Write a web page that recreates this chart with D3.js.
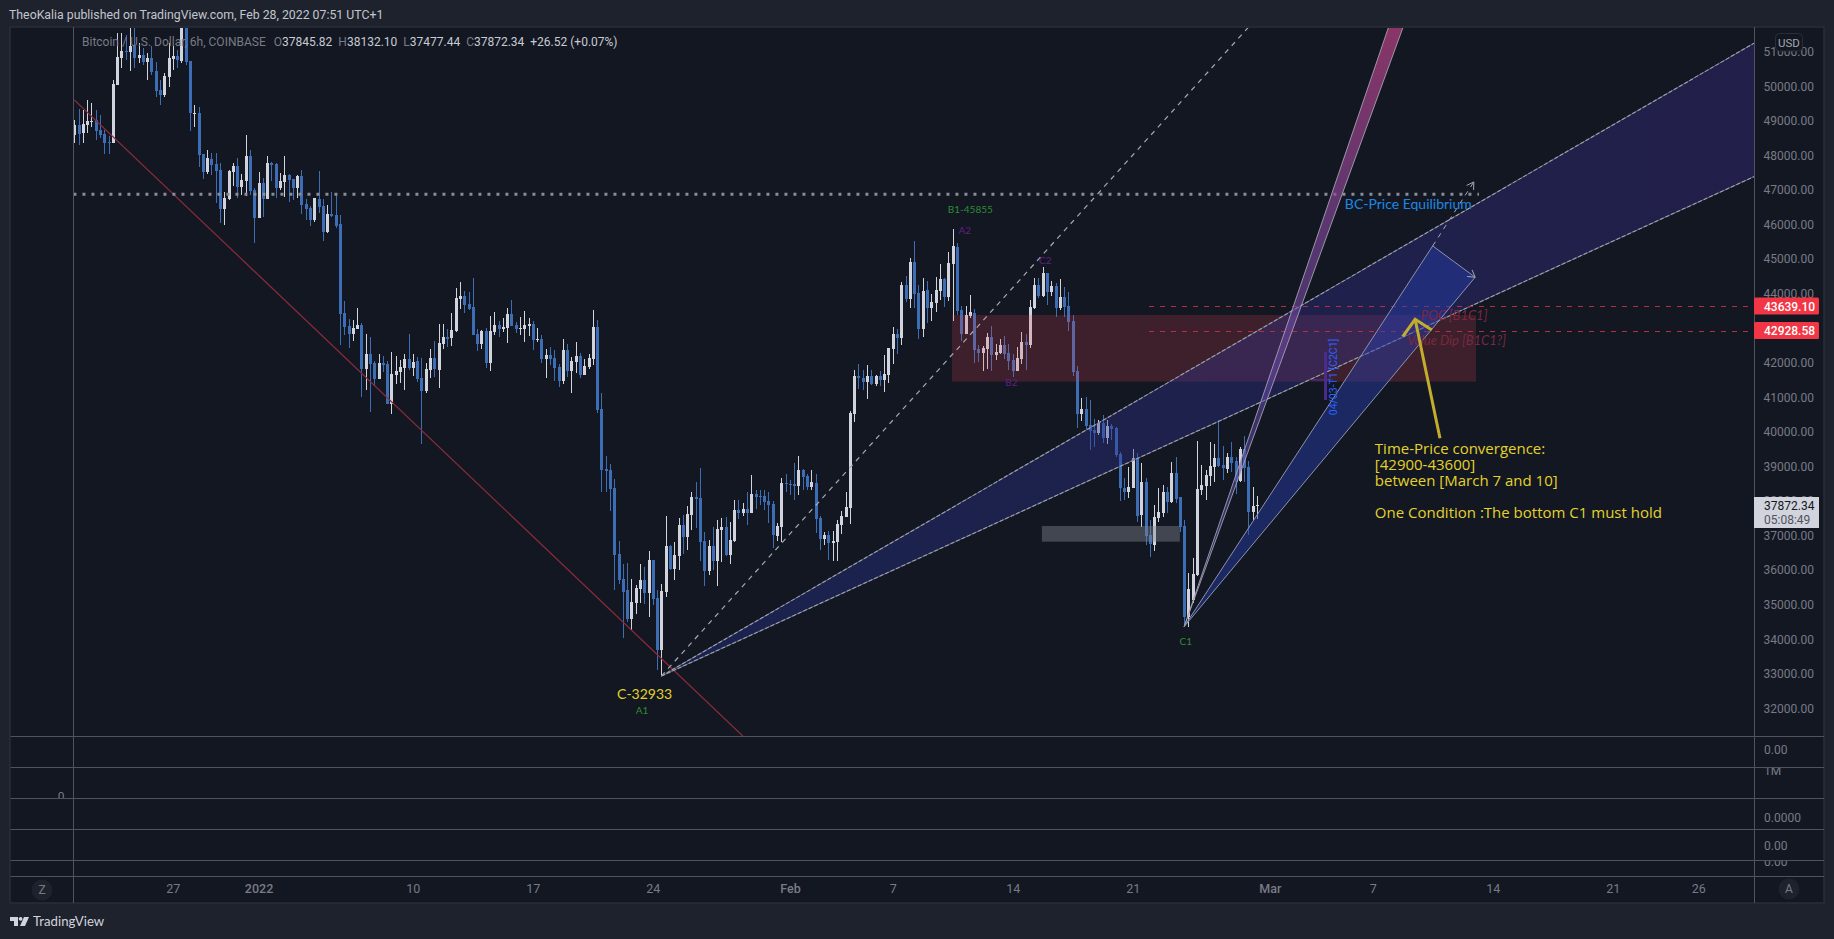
<!DOCTYPE html>
<html><head><meta charset="utf-8">
<script src="https://cdn.jsdelivr.net/npm/d3@7/dist/d3.min.js"></script>
<style>html,body{margin:0;padding:0;background:#1e222d;overflow:hidden}svg{display:block}text{font-family:Roboto,Lato,sans-serif}</style>
</head><body><div id="chart"></div>
<script>
// ---------- OHLC values (6h bars, bar 0 = 21 Dec 2021 06:00) ----------
const opens=[48590,48880,48640,48880,48977,49025,48736,48620,48380,48360,
50040,50810,51010,50995,51167,50820,50906,50713,50820,50443,
49894,49750,50270,50790,50880,50740,51990,50730,49210,49218,
48032,47520,47897,47742,47578,46450,46739,47530,47694,47096,
47270,47983,46999,46199,47192,46739,47771,47752,47067,47240,
47434,47318,47067,47414,46595,46488,46131,46739,46536,45783,
46304,46275,46015,43450,43064,42832,42967,43093,41820,42254,
42003,41530,41993,41964,40807,41646,41733,41848,42109,41848,
42051,41559,41183,41791,42138,41791,42543,42746,42717,42919,
43845,43932,43701,43614,42832,42543,42919,41993,42890,43093,
42977,43006,43411,43093,42987,42977,43064,43122,42659,42688,
42109,42225,42138,41877,41472,42370,41762,42022,42196,41646,
41877,42109,43035,40661,38925,38896,38375,36465,35741,35423,
34584,35047,35452,35713,35327,36292,35192,33687,35365,36697,
36031,36407,37304,36957,37594,38115,38086,36841,35973,36697,
36262,37160,37246,36436,36841,37739,37651,37767,37651,38201,
38144,38144,37999,37912,36986,37246,38520,38491,38491,38433,
38896,38722,38404,38520,37507,36899,37015,36783,36812,37304,
37536,37796,40517,41617,41559,41443,41617,41385,41617,41501,
41645,42398,42832,42716,44250,43845,44916,44009,42976,44105,
43584,43729,44076,44423,43902,44858,45350,43526,42832,43353,
43440,42398,42272,42398,42745,42224,42272,42513,42282,42079,
41761,42108,42600,42513,43584,44250,43931,44597,44047,44221,
43584,43902,43642,43208,41761,40516,40661,40198,40054,39957,
40256,39822,40169,40111,39358,38365,38269,38365,39233,37594,
38558,37015,36725,37497,37661,38259,37970,38799,38105,37275,
34651,35134,35857,38317,38433,38722,38992,39253,39041,38924,
39282,39156,38578,39504,38983,37681,37845];
const highs=[49025,49345,49315,49600,49527,49315,49170,48736,48560,50180,
51530,51530,51495,51700,51700,51245,51100,50955,51167,50704,
50180,50376,51245,51150,51050,52300,52400,50730,49460,49392,
48032,48157,48080,48060,47771,46932,47578,47771,47916,47463,
48580,48157,47048,47530,47337,47983,47820,47790,47482,47983,
47463,47318,47434,47578,46739,46546,46758,47559,46739,46565,
46941,46912,46275,43788,43266,43238,43585,43141,42832,42736,
42051,42254,42196,42051,42302,42196,42080,42254,42832,42254,
42167,42138,42003,42398,42630,43122,43122,42977,43440,44164,
44337,44077,44048,44453,42977,42948,43006,43353,43469,43209,
43295,43585,43816,43180,43324,43498,43295,43209,43006,42803,
42398,42456,42370,41964,42688,42543,42167,42601,42283,42109,
42254,43527,43238,41115,39301,39070,38636,36841,36176,36195,
35742,35568,36176,36099,36552,36292,35423,35597,37565,36726,
36812,37507,37594,37854,38260,38549,38954,37102,36870,37246,
37449,37507,37536,37391,38028,38028,37941,38260,38751,38317,
38317,38317,38259,37999,37362,38664,38780,38607,39089,39301,
38925,38780,38896,38780,37565,37102,37131,37131,37449,37710,
38259,40604,41790,41964,41790,41935,41790,41645,41761,42224,
42427,43035,42977,44337,44500,45032,45514,44250,44443,44365,
43989,44481,44857,44452,45205,45870,45465,43642,43642,43960,
43555,42513,42485,42861,43063,42542,42687,42774,42542,42253,
42455,42890,42832,43816,44452,44452,44771,44597,44366,44308,
44423,44192,44047,43381,41906,40979,41008,40922,40372,40343,
40487,40343,40227,40150,39426,38655,38992,39494,39378,39088,
38654,37449,37883,38365,38462,38413,39137,39262,38105,37449,
35905,36340,39735,39041,38896,39697,39648,40343,39591,39378,
39697,39263,39552,39880,39157,38414,38132];
const lows=[48350,48300,48350,48640,48830,48446,48495,48040,48040,48360,
50040,50520,50760,50450,50540,50665,50617,50180,50328,49700,
49460,49700,49990,50470,50520,50670,50620,48717,48830,47675,
47318,47453,47434,46613,46035,45970,46710,47115,46758,46855,
46835,46855,45450,46180,46228,46739,47270,46778,46999,46807,
46662,46710,46758,46305,46131,45958,46083,46324,45522,45754,
46217,45900,42515,42803,42427,42630,42967,41019,41212,40575,
41328,41530,41742,40807,40517,41386,41424,41212,41791,41617,
41453,39649,41135,41559,41588,41270,42398,42456,42485,42890,
43556,43440,43527,42803,42340,42398,41849,41762,42803,42746,
42890,42572,43064,42861,42803,42601,42775,42370,42601,41993,
41559,41935,41472,41299,41386,41588,41125,41704,41559,41646,
41820,41935,40546,38269,38269,37719,35423,35597,34043,34507,
34266,34729,35037,35018,34651,34989,33108,32933,35230,36002,
35713,36002,36465,36581,37160,37217,36262,35539,35857,36002,
35539,36233,36407,36176,36812,37478,37565,37304,37642,37767,
37883,37738,37362,36639,36841,36812,38259,38173,38028,38173,
38317,38317,38317,37073,36581,36725,36291,36262,36262,37044,
37536,37334,40285,41240,41211,40951,41356,41327,41327,41153,
41414,41964,42253,42513,43750,43584,43584,42687,42745,43150,
43208,43468,43816,43613,43787,43208,43381,42629,42832,43295,
41993,42022,41761,41819,41761,42079,42253,42108,41790,41587,
41761,41963,41790,42427,43555,43873,43902,43671,43931,43324,
43526,43324,42919,41616,40111,40314,40053,39475,39571,39909,
39677,39648,39764,39282,38008,38028,38075,38365,37400,37256,
36725,36368,36561,37400,37526,37661,37931,37950,37111,34410,
34362,35037,35828,38172,38028,38443,38558,38992,38606,38819,
38847,38201,38558,38558,37015,37449,37477];
const closes=[48880,48620,48910,48995,49006,48707,48580,48360,48370,50067,
50840,51010,51000,51167,50810,50900,50704,50820,50405,49874,
49750,50300,50820,50880,50760,52000,50710,49218,49220,48012,
47530,47916,47723,47559,46459,46758,47549,47694,47096,47289,
47983,46970,46199,47192,46739,47771,47733,47067,47260,47434,
47289,47067,47414,46566,46450,46131,46758,46517,45783,46304,
46246,45957,43410,43045,42832,43006,43093,41820,42254,41964,
41530,41993,41935,40807,41675,41762,41877,42109,41848,42022,
41530,41183,41820,42138,41820,42572,42746,42688,42948,43874,
43932,43672,43556,42803,42543,42919,41993,42919,43093,42977,
43035,43411,43064,42977,43006,43093,43122,42659,42688,42109,
42225,42109,41848,41472,42370,41762,42051,42196,41646,41906,
42138,43035,40633,38896,38867,38346,36436,35713,35365,34584,
35076,35481,35713,35327,36292,35163,33687,35394,36697,36031,
36436,37304,36957,37623,38115,38057,36812,35973,36697,36262,
37189,37246,36436,36870,37739,37642,37767,37651,38201,38115,
38125,37970,37883,37015,37275,38520,38491,38472,38433,38896,
38694,38404,38548,37478,36899,37015,36783,36841,37333,37565,
37825,40546,41617,41549,41443,41617,41385,41617,41501,41674,
42427,42832,42716,44250,43845,44916,43989,42976,44076,43584,
43758,44105,44423,43902,44887,45378,43497,42832,43381,43459,
42369,42272,42427,42745,42224,42311,42513,42253,42050,41761,
42137,42600,42513,43613,44250,43931,44597,44047,44221,43584,
43902,43613,43179,41732,40516,40661,40169,40024,39957,40256,
39822,40169,40082,39330,38365,38269,38413,39233,37565,38558,
36986,36754,37526,37680,38259,37970,38799,38047,37256,34651,
35452,35886,38346,38462,38751,39012,39253,39012,38944,39282,
39089,38558,39504,38964,37681,37854,37872];

// ---------- axis values ----------
const priceTicks=[32000,33000,34000,35000,36000,37000,38000,39000,40000,41000,42000,43000,44000,45000,46000,47000,48000,49000,50000,51000];
const timeTickBars=[23,43,79,107,135,167,191,219,247,279,303,331,359,379];
const timeTickLabels=["27","2022","10","17","24","Feb","7","14","21","Mar","7","14","21","26"];
const boldTimeLabels=["2022","Feb","Mar"];
const paneSeparators=[736.3,767.3,798.3,829.3,860.3,876.3];

// ---------- drawings, as [bar, price] ----------
const pivotA=[137,32933];
const pivotC1=[259,34362];
const dashedFibEnd=[274.1,51720];
const wedgeMainUpper=[392,51245];
const wedgeMainLower=[392,47385];
const wedgeSteepLeft=[306.7,51710];
const wedgeSteepRight=[310.1,51710];
const wedgeTargetLeft=[317,45379];
const wedgeTargetRight=[326.9,44473];
const wedgeTargetExt=[326.6,47231];
const redDiagonal=[[0,49604],[156,31198]];
const equilibriumLine=[[-0.2,46876],[327.8,46876]];
const redZone=[204.8,327.1,43380,41450];
const grayZone=[225.8,258,37276,36822];
const levels=[43639.10,42928.58];
const levelStartBar=250.8;
const lastBar=392;
const yellowArrow=[[318.7,39814],[312.9,43257]];
const yellowHead=[[310,42754],[312.9,43257],[316.8,42948]];
const crossV=[[292,42320],[292,40922]];
const crossH=[[288.8,41501],[293.7,41501]];
const pointLabels=[
 {t:"C-32933",b:133.1,p:32414,c:"#e3d22c",s:14},
 {t:"A1",b:132.5,p:31930,c:"#2e8b35",s:10},
 {t:"B1-45855",b:209.1,p:46427,c:"#2e8b35",s:10},
 {t:"A2",b:207.8,p:45822,c:"#5f1f86",s:10},
 {t:"C2",b:226.6,p:44945,c:"#5f1f86",s:10},
 {t:"B2",b:218.7,p:41414,c:"#5f1f86",s:10},
 {t:"C1",b:259.4,p:33927,c:"#2e8b35",s:10}];
const sideLabels=[
 {t:"BC-Price Equilibrium",b:296.5,p:46595,c:"#1e88e5",s:14,st:"normal"},
 {t:"POC [B1C1]",b:314.2,p:43353,c:"#7a2840",s:13,st:"italic"},
 {t:"Value Dip [B1C1?]",b:311,p:42630,c:"#7a2840",s:13,st:"italic"}];
const noteLines=[
 {t:"Time-Price convergence:",p:39524},
 {t:"[42900-43600]",p:39061},
 {t:"between [March 7 and 10]",p:38598},
 {t:"One Condition :The bottom C1 must hold",p:37660}];
const noteBar=303.5;
const rotatedLabel={t:"04/03-T1 [C2C1]",b:293.9,p:41588};
const legendParts=[["O","37845.82"],["H","38132.10"],["L","37477.44"],["C","37872.34"]];

// ---------- scales ----------
const W=1834,H=939;
const x=d3.scaleLinear().domain([0,276]).range([74.3,1257]);
const y=d3.scaleLinear().domain([32000,51000]).range([708.3,51.66]);
const P=d=>[x(d[0]),y(d[1])];
const pane={l:74,t:28,r:1754,b:736};

const svg=d3.select("#chart").append("svg").attr("width",W).attr("height",H);
const defs=svg.append("defs");
defs.append("clipPath").attr("id","main").append("rect").attr("x",pane.l).attr("y",pane.t).attr("width",pane.r-pane.l).attr("height",pane.b-pane.t);
const g1=defs.append("linearGradient").attr("id","gMain").attr("gradientUnits","userSpaceOnUse").attr("x1",x(pivotA[0])).attr("x2",x(lastBar)).attr("y1",0).attr("y2",0);
g1.append("stop").attr("offset",0).attr("stop-color","rgb(36,54,148)").attr("stop-opacity",.38);
g1.append("stop").attr("offset",1).attr("stop-color","rgb(60,46,145)").attr("stop-opacity",.36);
const g2=defs.append("linearGradient").attr("id","gSteep").attr("gradientUnits","userSpaceOnUse").attr("x1",0).attr("x2",0).attr("y1",y(pivotC1[1])).attr("y2",pane.t);
g2.append("stop").attr("offset",0).attr("stop-color","#3c44a8").attr("stop-opacity",.5);
g2.append("stop").attr("offset",.61).attr("stop-color","#7f4ba4").attr("stop-opacity",.6);
g2.append("stop").attr("offset",1).attr("stop-color","#b23f7d").attr("stop-opacity",.75);

// chrome
svg.append("rect").attr("width",W).attr("height",H).attr("fill","#1e222d");
svg.append("rect").attr("x",10).attr("y",27).attr("width",1814).attr("height",876).attr("fill","#131722").attr("stroke","#2a2e39").attr("stroke-width",1.5);
svg.append("text").attr("x",9).attr("y",19).attr("fill","#c3c6ce").attr("font-size",12.3).text("TheoKalia published on TradingView.com, Feb 28, 2022 07:51 UTC+1");

// footer logo + wordmark
svg.append("path").attr("fill","#d1d4dc").attr("d","M10 917h8v9h-4v-5h-4z");
svg.append("circle").attr("cx",20.6).attr("cy",918.8).attr("r",1.9).attr("fill","#d1d4dc");
svg.append("path").attr("fill","#d1d4dc").attr("d","M24 917h5l-4 9h-5z");
svg.append("text").attr("x",33).attr("y",926).attr("fill","#d1d4dc").attr("font-size",13.2).style("font-family","Lato").text("TradingView");

// pane separators
svg.append("g").selectAll("line").data(paneSeparators).join("line")
 .attr("x1",10.5).attr("x2",1824).attr("y1",d=>Math.round(d)+.5).attr("y2",d=>Math.round(d)+.5)
 .attr("stroke","#50535e").attr("stroke-width",1);
// vertical scale borders
[73.5,1754.5].forEach(v=>svg.append("line").attr("x1",v).attr("x2",v).attr("y1",27).attr("y2",903).attr("stroke","#50535e"));

// candles
const bars=d3.range(opens.length).map(i=>({i,o:opens[i],h:highs[i],l:lows[i],c:closes[i]}));
const upC="#d1d4dc",dnC="#3d6db5";
const plot=svg.append("g").attr("clip-path","url(#main)");
const cg=plot.append("g").attr("shape-rendering","crispEdges");
cg.selectAll("rect.w").data(bars).join("rect").attr("class","w")
 .attr("x",d=>Math.round(x(d.i))).attr("width",1)
 .attr("y",d=>y(d.h)).attr("height",d=>Math.max(1,y(d.l)-y(d.h)))
 .attr("fill",d=>d.c>=d.o?upC:dnC);
cg.selectAll("rect.b").data(bars).join("rect").attr("class","b")
 .attr("x",d=>Math.round(x(d.i))-1).attr("width",3)
 .attr("y",d=>y(Math.max(d.o,d.c))).attr("height",d=>Math.max(1,Math.abs(y(d.o)-y(d.c))))
 .attr("fill",d=>d.c>=d.o?upC:dnC);

// drawings
const ln=d3.line().x(d=>x(d[0])).y(d=>y(d[1]));
const grayDash="#a6a9b2";
plot.append("path").attr("d",ln(redDiagonal)).attr("fill","none").attr("stroke","#8a2b3c").attr("stroke-width",1.2);
plot.append("path").attr("d",ln(equilibriumLine)).attr("fill","none").attr("stroke","#8a8d96").attr("stroke-width",3).attr("stroke-dasharray","3 6");
plot.append("rect").attr("x",x(redZone[0])).attr("width",x(redZone[1])-x(redZone[0])).attr("y",y(redZone[2])).attr("height",y(redZone[3])-y(redZone[2])).attr("fill","rgba(232,70,82,.2)");
plot.append("rect").attr("x",x(grayZone[0])).attr("width",x(grayZone[1])-x(grayZone[0])).attr("y",y(grayZone[2])).attr("height",y(grayZone[3])-y(grayZone[2])).attr("fill","rgba(130,135,145,.42)");
// dashed fib line
plot.append("path").attr("d",ln([pivotA,dashedFibEnd])).attr("fill","none").attr("stroke",grayDash).attr("stroke-width",1.2).attr("stroke-dasharray","5 5");
// main wedge
plot.append("path").attr("d",ln([pivotA,wedgeMainUpper,wedgeMainLower])+"Z").attr("fill","url(#gMain)");
[wedgeMainUpper,wedgeMainLower].forEach(e=>{
 plot.append("path").attr("d",ln([pivotA,e])).attr("fill","none").attr("stroke","#5f6180").attr("stroke-width",1);
 plot.append("path").attr("d",ln([pivotA,e])).attr("fill","none").attr("stroke","#9ea1aa").attr("stroke-width",1.1).attr("stroke-dasharray","4 2");
});
// levels
levels.forEach(l=>plot.append("line").attr("x1",x(levelStartBar)).attr("x2",x(lastBar)).attr("y1",Math.round(y(l))+.5).attr("y2",Math.round(y(l))+.5).attr("stroke","#b42f40").attr("stroke-dasharray","5 6"));
// steep wedge
plot.append("path").attr("d",ln([pivotC1,wedgeSteepLeft,wedgeSteepRight])+"Z").attr("fill","url(#gSteep)");
[wedgeSteepLeft,wedgeSteepRight].forEach(e=>plot.append("path").attr("d",ln([pivotC1,e])).attr("fill","none").attr("stroke","#a9a9b6").attr("stroke-opacity",.85).attr("stroke-width",1));
// target wedge
plot.append("path").attr("d",ln([pivotC1,wedgeTargetLeft,wedgeTargetRight])+"Z").attr("fill","rgba(37,63,176,.45)");
plot.append("path").attr("d",ln([wedgeTargetRight,wedgeTargetLeft,pivotC1,wedgeTargetRight])).attr("fill","none").attr("stroke","#8d93ad").attr("stroke-width",1);
plot.append("path").attr("d",ln([wedgeTargetLeft,wedgeTargetExt])).attr("fill","none").attr("stroke",grayDash).attr("stroke-dasharray","5 5");
// open arrow heads
function head(from,to){
 const [x0,y0]=P(from),[x1,y1]=P(to),a=Math.atan2(y1-y0,x1-x0),L=8;
 const pts=[[x1+L*Math.cos(a+2.6),y1+L*Math.sin(a+2.6)],[x1,y1],[x1+L*Math.cos(a-2.6),y1+L*Math.sin(a-2.6)]];
 plot.append("path").attr("d",d3.line()(pts)).attr("fill","none").attr("stroke",grayDash);
}
head(wedgeTargetLeft,wedgeTargetExt);
head(wedgeTargetLeft,wedgeTargetRight);
// purple cross
[crossV,crossH].forEach((c,i)=>plot.append("path").attr("d",ln(c)).attr("stroke","#4a2c8f").attr("stroke-width",i?1.5:3).attr("fill","none"));
// labels on the chart
plot.selectAll("text.pt").data(pointLabels).join("text").attr("class","pt")
 .attr("x",d=>x(d.b)).attr("y",d=>y(d.p)).attr("dy","0.35em").attr("text-anchor","middle")
 .attr("fill",d=>d.c).attr("font-size",d=>d.s).style("font-family","Lato").text(d=>d.t);
plot.selectAll("text.sd").data(sideLabels).join("text").attr("class","sd")
 .attr("x",d=>x(d.b)).attr("y",d=>y(d.p)).attr("dy","0.35em")
 .attr("fill",d=>d.c).attr("font-size",d=>d.s).attr("font-style",d=>d.st).style("font-family","Lato").text(d=>d.t);
plot.append("text").attr("transform",`translate(${x(rotatedLabel.b)},${y(rotatedLabel.p)}) rotate(-90)`)
 .attr("text-anchor","middle").attr("dy","0.35em").attr("fill","#2962ff").attr("font-size",10.5).text(rotatedLabel.t);
plot.append("path").attr("d",ln(yellowArrow)).attr("fill","none").attr("stroke","#c2ae2c").attr("stroke-width",3);
plot.append("path").attr("d",ln(yellowHead)).attr("fill","none").attr("stroke","#c2ae2c").attr("stroke-width",3);
plot.selectAll("text.nt").data(noteLines).join("text").attr("class","nt")
 .attr("x",x(noteBar)).attr("y",d=>y(d.p)).attr("dy","0.35em").attr("fill","#e3d22c").attr("font-size",15).style("font-family","Open Sans").text(d=>d.t);

// price axis
const axR=d3.axisRight(y).tickValues(priceTicks).tickSize(0).tickPadding(9.5).tickFormat(d3.format(".2f"));
const ga=svg.append("g").attr("transform",`translate(${pane.r},0)`).call(axR);
ga.select(".domain").remove();
ga.selectAll("text").attr("fill","#787b86").attr("font-size",12).style("font-family","Roboto");
// time axis
const axB=d3.axisBottom(x).tickValues(timeTickBars).tickSize(0).tickPadding(0).tickFormat((d,i)=>timeTickLabels[i]);
const gt=svg.append("g").attr("transform","translate(0,884)").call(axB);
gt.select(".domain").remove();
gt.selectAll("text").attr("fill","#787b86").attr("font-size",12.5).attr("font-weight",(d,i)=>boldTimeLabels.includes(timeTickLabels[i])?"500":"400").style("font-family","Roboto");

// sub-pane scale labels
const subLabels=[["0.00",754],["0.0000",822],["0.00",849.5]];
svg.selectAll("text.sub").data(subLabels).join("text").attr("class","sub").attr("x",1764).attr("y",d=>d[1]).attr("fill","#787b86").attr("font-size",12).text(d=>d[0]);
const clipA=defs.append("clipPath").attr("id","sa");
clipA.append("rect").attr("x",1755).attr("y",768).attr("width",69).attr("height",30);
clipA.append("rect").attr("x",1755).attr("y",861).attr("width",69).attr("height",15);
clipA.append("rect").attr("x",12).attr("y",770).attr("width",60).attr("height",28);
svg.append("g").attr("clip-path","url(#sa)").selectAll("text").data([["1M",1764,775,"start"],["0.00",1764,866,"start"],["0",61,801,"middle"]]).join("text")
 .attr("x",d=>d[1]).attr("y",d=>d[2]).attr("text-anchor",d=>d[3]).attr("fill","#787b86").attr("font-size",12).text(d=>d[0]);

// USD badge
svg.append("rect").attr("x",1775.5).attr("y",33.5).attr("width",27).attr("height",17.5).attr("rx",4).attr("fill","#131722").attr("stroke","#2a2e39");
svg.append("text").attr("x",1789).attr("y",46.5).attr("text-anchor","middle").attr("fill","#a3a6af").attr("font-size",11.5).text("USD");

// level tags
levels.forEach(l=>{
 const yy=y(l);
 svg.append("rect").attr("x",1754).attr("y",yy-8.5).attr("width",65).attr("height",17).attr("rx",1.5).attr("fill","#f23645");
 svg.append("text").attr("x",1764).attr("y",yy+4.5).attr("fill","#fff").attr("font-weight",500).attr("font-size",12).text(d3.format(".2f")(l));
});
// last price tag
svg.append("rect").attr("x",1754).attr("y",497).attr("width",65).attr("height",31).attr("fill","#d1d4dc");
svg.append("text").attr("x",1764).attr("y",510).attr("fill","#131722").attr("font-size",12).text("37872.34");
svg.append("text").attr("x",1764).attr("y",524).attr("fill","#50535e").attr("font-size",12).text("05:08:49");

// scale-corner buttons
[[42,890,"Z"],[1789,889,"A"]].forEach(d=>{
 svg.append("circle").attr("cx",d[0]).attr("cy",d[1]).attr("r",10.5).attr("fill","#1e222d");
 svg.append("text").attr("x",d[0]).attr("y",d[1]+4).attr("text-anchor","middle").attr("fill","#787b86").attr("font-size",12).text(d[2]);
});

// legend
const leg=svg.append("text").attr("x",82).attr("y",45.5).attr("font-size",12).attr("fill","#787b86");
leg.append("tspan").text("Bitcoin / U.S. Dollar, 6h, COINBASE");
legendParts.forEach((d,i)=>{
 leg.append("tspan").attr("dx",i?6:8).text(d[0]);
 leg.append("tspan").attr("fill","#c8cbd3").text(d[1]);
});
leg.append("tspan").attr("dx",6).attr("fill","#c8cbd3").text("+26.52 (+0.07%)");
</script></body></html>
